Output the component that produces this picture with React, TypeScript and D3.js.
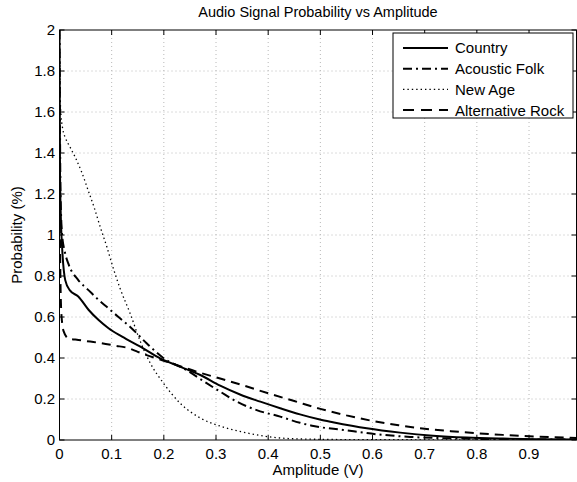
import React from "react";
import * as d3 from "d3";

const title = "Audio Signal Probability vs Amplitude";
const xLabel = "Amplitude (V)";
const yLabel = "Probability (%)";
const xTicks = [0, 0.1, 0.2, 0.3, 0.4, 0.5, 0.6, 0.7, 0.8, 0.9];
const yTicks = [0, 0.2, 0.4, 0.6, 0.8, 1, 1.2, 1.4, 1.6, 1.8, 2];
const seriesNames = ["Country", "Acoustic Folk", "New Age", "Alternative Rock"];

const countryX = [0, 0.001, 0.003, 0.005, 0.011, 0.02, 0.036, 0.056, 0.075, 0.094, 0.12, 0.155, 0.193, 0.231, 0.27, 0.308, 0.346, 0.385, 0.423, 0.461, 0.499, 0.524, 0.589, 0.653, 0.716, 0.78, 0.85, 0.92, 0.991];
const countryY = [2.0, 1.3, 1.05, 0.94, 0.78, 0.73, 0.7, 0.634, 0.585, 0.545, 0.504, 0.455, 0.398, 0.358, 0.317, 0.265, 0.222, 0.187, 0.155, 0.125, 0.1, 0.087, 0.057, 0.036, 0.021, 0.012, 0.007, 0.004, 0.002];

const folkX = [0, 0.002, 0.005, 0.01, 0.017, 0.036, 0.056, 0.075, 0.094, 0.113, 0.135, 0.167, 0.199, 0.244, 0.282, 0.308, 0.34, 0.378, 0.423, 0.461, 0.487, 0.544, 0.608, 0.672, 0.75, 0.85, 0.991];
const folkY = [2.0, 1.2, 1.0, 0.92, 0.86, 0.78, 0.73, 0.683, 0.642, 0.6, 0.553, 0.472, 0.4, 0.34, 0.277, 0.236, 0.187, 0.146, 0.114, 0.084, 0.068, 0.049, 0.028, 0.015, 0.008, 0.004, 0.002];

const newAgeX = [0, 0.002, 0.006, 0.012, 0.02, 0.03, 0.042, 0.056, 0.067, 0.078, 0.091, 0.1016, 0.116, 0.135, 0.155, 0.174, 0.199, 0.231, 0.27, 0.314, 0.36, 0.4, 0.45, 0.55, 0.7, 0.991];
const newAgeY = [2.0, 1.62, 1.52, 1.47, 1.43, 1.38, 1.31, 1.21, 1.13, 1.04, 0.94, 0.85, 0.74, 0.62, 0.48, 0.375, 0.278, 0.18, 0.107, 0.063, 0.034, 0.016, 0.006, 0.002, 0.001, 0.0];

const rockX = [0, 0.002, 0.004, 0.008, 0.017, 0.036, 0.059, 0.081, 0.107, 0.132, 0.15, 0.174, 0.22, 0.263, 0.308, 0.35, 0.4, 0.45, 0.5, 0.55, 0.6, 0.65, 0.7, 0.75, 0.8, 0.85, 0.9, 0.95, 0.991];
const rockY = [1.2, 0.75, 0.6, 0.53, 0.496, 0.488, 0.48, 0.472, 0.46, 0.448, 0.43, 0.408, 0.37, 0.333, 0.3, 0.268, 0.228, 0.19, 0.152, 0.12, 0.093, 0.072, 0.055, 0.043, 0.033, 0.025, 0.018, 0.013, 0.01];

const W = 577;
const H = 482;
const left = 59.5;
const right = 576.5;
const top = 30;
const bottom = 440;
const font = "'Liberation Sans', Arial, Helvetica, sans-serif";

export default function App() {
  const x = d3.scaleLinear().domain([0, 0.991]).range([left, right]);
  const y = d3.scaleLinear().domain([0, 2]).range([bottom, top]);
  const line = d3
    .line<[number, number]>()
    .x((d) => x(d[0]))
    .y((d) => y(d[1]))
    .curve(d3.curveMonotoneX);

  const zip = (xs: number[], ys: number[]) => xs.map((v, i) => [v, ys[i]] as [number, number]);
  const series = [
    { name: seriesNames[0], data: zip(countryX, countryY), dash: "none", w: 2 },
    { name: seriesNames[1], data: zip(folkX, folkY), dash: "9,4,2,4", w: 2 },
    { name: seriesNames[2], data: zip(newAgeX, newAgeY), dash: "1.4,3", w: 1.3 },
    { name: seriesNames[3], data: zip(rockX, rockY), dash: "9,6", w: 2 },
  ];

  const legX = 393;
  const legY = 33;
  const legW = 180;
  const legH = 85;
  const rowH = 20.7;

  return (
    <svg width={W} height={H} style={{ position: "absolute", left: 0, top: 0, background: "#fff" }} fontFamily={font}>
      <defs>
        <clipPath id="plotclip">
          <rect x={left} y={top} width={right - left} height={bottom - top} />
        </clipPath>
      </defs>
      <rect x={0} y={0} width={W} height={H} fill="#fff" />
      {/* grid */}
      {xTicks.slice(1).map((t) => (
        <line key={"gx" + t} x1={x(t)} x2={x(t)} y1={top} y2={bottom} stroke="#b8b8b8" strokeWidth={1} strokeDasharray="1,3" />
      ))}
      {yTicks.slice(1, -1).map((t) => (
        <line key={"gy" + t} x1={left} x2={right} y1={y(t)} y2={y(t)} stroke="#b8b8b8" strokeWidth={1} strokeDasharray="1,3" />
      ))}
      {/* series */}
      <g clipPath="url(#plotclip)">
        {series.map((s) => (
          <path key={s.name} d={line(s.data) || ""} fill="none" stroke="#000" strokeWidth={s.w} strokeDasharray={s.dash} />
        ))}
      </g>
      {/* frame */}
      <rect x={left} y={top} width={right - left} height={bottom - top} fill="none" stroke="#000" strokeWidth={1} />
      {/* ticks */}
      {xTicks.map((t) => (
        <g key={"tx" + t}>
          <line x1={x(t)} x2={x(t)} y1={bottom} y2={bottom - 5} stroke="#000" />
          <line x1={x(t)} x2={x(t)} y1={top} y2={top + 5} stroke="#000" />
          <text x={x(t)} y={459} fontSize={15} textAnchor="middle">
            {String(t)}
          </text>
        </g>
      ))}
      {yTicks.map((t) => (
        <g key={"ty" + t}>
          <line x1={left} x2={left + 5} y1={y(t)} y2={y(t)} stroke="#000" />
          <line x1={right} x2={right - 5} y1={y(t)} y2={y(t)} stroke="#000" />
          <text x={55} y={y(t)} dy="0.36em" fontSize={15} textAnchor="end">
            {String(t)}
          </text>
        </g>
      ))}
      {/* labels */}
      <text x={(left + right) / 2} y={17} fontSize={14.5} textAnchor="middle">
        {title}
      </text>
      <text x={(left + right) / 2} y={475} fontSize={15} textAnchor="middle">
        {xLabel}
      </text>
      <text transform={`translate(22,${(top + bottom) / 2}) rotate(-90)`} fontSize={15} textAnchor="middle">
        {yLabel}
      </text>
      {/* legend */}
      <rect x={legX} y={legY} width={legW} height={legH} fill="#fff" stroke="#000" strokeWidth={1} />
      {series.map((s, i) => (
        <g key={"leg" + s.name}>
          <line x1={403} x2={448} y1={legY + 15 + i * rowH} y2={legY + 15 + i * rowH} stroke="#000" strokeWidth={s.w} strokeDasharray={s.dash === "9,6" ? "11,7" : s.dash} />
          <text x={455} y={legY + 15 + i * rowH} dy="0.36em" fontSize={15}>
            {s.name}
          </text>
        </g>
      ))}
    </svg>
  );
}
